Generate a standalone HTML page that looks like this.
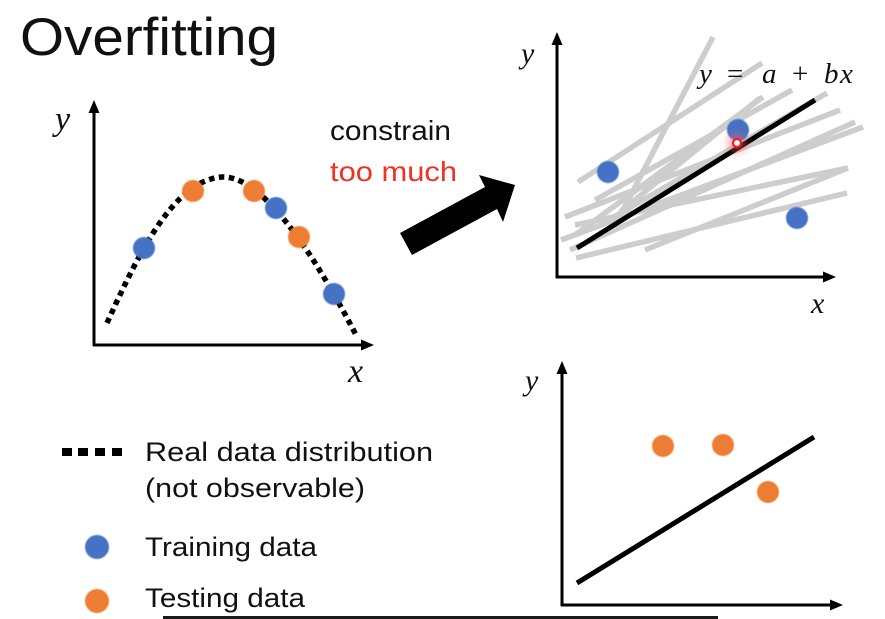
<!DOCTYPE html>
<html>
<head>
<meta charset="utf-8">
<style>
  html, body { margin: 0; padding: 0; background: #ffffff; }
  body { width: 885px; height: 619px; overflow: hidden; }
  svg { display: block; }
  .sans { font-family: "Liberation Sans", sans-serif; }
  .math { font-family: "Liberation Serif", serif; font-style: italic; }
  .mathr { font-family: "Liberation Serif", serif; }
</style>
</head>
<body>
<svg width="885" height="619" viewBox="0 0 885 619" xmlns="http://www.w3.org/2000/svg">
  <defs>
    <filter id="glow" x="-100%" y="-100%" width="300%" height="300%">
      <feGaussianBlur stdDeviation="4"/>
    </filter>
    <filter id="soft" x="-50%" y="-50%" width="200%" height="200%">
      <feGaussianBlur stdDeviation="0.6"/>
    </filter>
  </defs>
  <rect width="885" height="619" fill="#ffffff"/>

  <!-- Title -->
  <text x="20" y="55" class="sans" font-size="53" fill="#111" textLength="258" lengthAdjust="spacingAndGlyphs">Overfitting</text>

  <!-- ===== Left chart ===== -->
  <g stroke="#000" stroke-width="3" fill="none">
    <line x1="94" y1="346" x2="94" y2="110"/>
    <line x1="93" y1="345" x2="364" y2="345"/>
  </g>
  <polygon points="94,100 88.5,113 99.5,113" fill="#000"/>
  <polygon points="374,345 361,339.5 361,350.5" fill="#000"/>
  <text x="55" y="130" class="math" font-size="34" fill="#111">y</text>
  <text x="348" y="382" class="math" font-size="34" fill="#111">x</text>

  <path d="M107,323 C 140,250 175,180 222,177 C 265,175 320,265 357,337" fill="none" stroke="#000" stroke-width="5.5" stroke-dasharray="5.5 4.5"/>

  <g filter="url(#soft)">
    <circle cx="144" cy="248" r="11" fill="#4472C4"/>
    <circle cx="193" cy="191" r="11" fill="#ED7D31"/>
    <circle cx="254" cy="191" r="11" fill="#ED7D31"/>
    <circle cx="276" cy="208" r="11" fill="#4472C4"/>
    <circle cx="299" cy="237" r="11" fill="#ED7D31"/>
    <circle cx="334" cy="294" r="11" fill="#4472C4"/>
  </g>

  <!-- constrain too much + arrow -->
  <text x="330" y="140" class="sans" font-size="28" fill="#111" textLength="121" lengthAdjust="spacingAndGlyphs">constrain</text>
  <text x="330" y="181" class="sans" font-size="28" fill="#EE3324" textLength="127" lengthAdjust="spacingAndGlyphs">too much</text>
  <polygon points="400,233 485,187 479,175 515,185 503,222 497,209 412,255" fill="#000"/>

  <!-- ===== Top-right chart ===== -->
  <g stroke="#cdcdcd" stroke-width="5.5" fill="none" stroke-linecap="butt">
    <line x1="713" y1="37" x2="622" y2="212"/>
    <line x1="578" y1="182" x2="762" y2="63"/>
    <line x1="595" y1="200" x2="792" y2="90"/>
    <line x1="575" y1="235" x2="763" y2="97"/>
    <line x1="565" y1="217" x2="840" y2="110"/>
    <line x1="600" y1="225" x2="827" y2="93"/>
    <line x1="561" y1="240" x2="863" y2="127"/>
    <line x1="645" y1="250" x2="848" y2="168"/>
    <line x1="576" y1="258" x2="847" y2="193"/>
    <line x1="570" y1="250" x2="855" y2="122"/>
    <line x1="575" y1="225" x2="848" y2="168"/>
    <line x1="620" y1="212" x2="760" y2="98"/>
  </g>
  <g stroke="#000" stroke-width="3" fill="none">
    <line x1="557" y1="278" x2="557" y2="42"/>
    <line x1="556" y1="277" x2="826" y2="277"/>
  </g>
  <polygon points="557,32 551.5,45 562.5,45" fill="#000"/>
  <polygon points="836,277 823,271.5 823,282.5" fill="#000"/>
  <text x="521" y="63" class="math" font-size="30" fill="#111">y</text>
  <text x="811" y="313" class="math" font-size="30" fill="#111">x</text>

  <!-- formula -->
  <text x="699" y="83" class="math" font-size="29" fill="#111">y</text>
  <text x="727" y="83" class="mathr" font-size="29" fill="#111">=</text>
  <text x="762" y="83" class="math" font-size="29" fill="#111">a</text>
  <text x="792" y="83" class="mathr" font-size="29" fill="#111">+</text>
  <text x="824" y="83" class="math" font-size="29" fill="#111">b</text>
  <text x="840" y="83" class="math" font-size="29" fill="#111">x</text>

  <line x1="577" y1="248" x2="815" y2="100" stroke="#000" stroke-width="5"/>

  <g filter="url(#soft)">
    <circle cx="608" cy="172" r="11" fill="#4472C4"/>
    <circle cx="738" cy="130" r="11" fill="#4472C4"/>
    <circle cx="797" cy="218" r="11" fill="#4472C4"/>
  </g>
  <circle cx="737" cy="143" r="10" fill="#ff5a5a" opacity="0.45" filter="url(#glow)"/>
  <circle cx="737" cy="143" r="4" fill="#ffffff" stroke="#ff1a1a" stroke-width="2.2"/>

  <!-- ===== Bottom-right chart ===== -->
  <g stroke="#000" stroke-width="3" fill="none">
    <line x1="562" y1="606" x2="562" y2="371"/>
    <line x1="561" y1="605" x2="833" y2="605"/>
  </g>
  <polygon points="562,361 556.5,374 567.5,374" fill="#000"/>
  <polygon points="843,605 830,599.5 830,610.5" fill="#000"/>
  <text x="525" y="390" class="math" font-size="30" fill="#111">y</text>

  <line x1="577" y1="583" x2="814" y2="437" stroke="#000" stroke-width="5"/>
  <g filter="url(#soft)">
    <circle cx="663" cy="446" r="11" fill="#ED7D31"/>
    <circle cx="723" cy="445" r="11" fill="#ED7D31"/>
    <circle cx="768" cy="492" r="11" fill="#ED7D31"/>
  </g>

  <!-- ===== Legend ===== -->
  <g fill="#000">
    <rect x="62" y="448" width="10" height="8"/>
    <rect x="78" y="448" width="10" height="8"/>
    <rect x="95" y="448" width="10" height="8"/>
    <rect x="112" y="448" width="10" height="8"/>
  </g>
  <text x="145" y="461" class="sans" font-size="27" fill="#111" textLength="288" lengthAdjust="spacingAndGlyphs">Real data distribution</text>
  <text x="145" y="497" class="sans" font-size="27" fill="#111" textLength="220" lengthAdjust="spacingAndGlyphs">(not observable)</text>
  <circle cx="97" cy="547" r="12" fill="#4472C4" filter="url(#soft)"/>
  <text x="145" y="556" class="sans" font-size="27" fill="#111" textLength="172" lengthAdjust="spacingAndGlyphs">Training data</text>
  <circle cx="97" cy="601" r="12" fill="#ED7D31" filter="url(#soft)"/>
  <text x="145" y="607" class="sans" font-size="27" fill="#111" textLength="160" lengthAdjust="spacingAndGlyphs">Testing data</text>

  <!-- bottom bar -->
  <rect x="163" y="616" width="555" height="3" fill="#1a1a1a"/>
</svg>
</body>
</html>
